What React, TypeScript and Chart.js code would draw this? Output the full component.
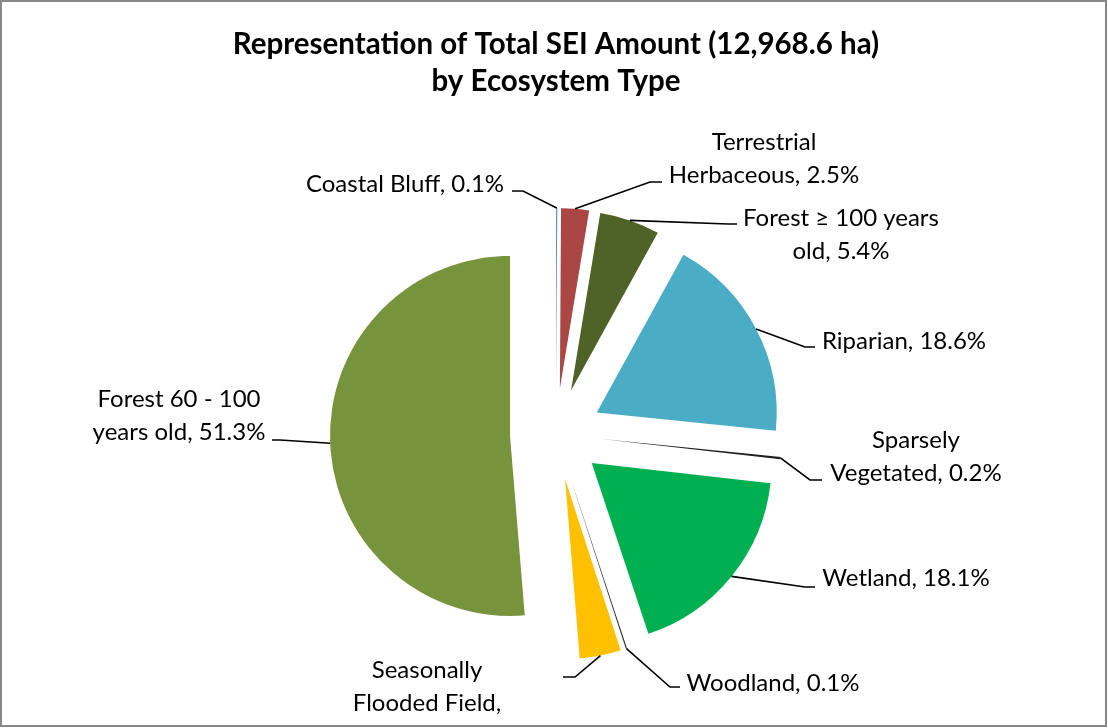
import React, { useEffect, useRef } from 'react';
import { Chart, registerables } from 'chart.js';

Chart.register(...registerables);

const categories = [
  'Coastal Bluff',
  'Terrestrial Herbaceous',
  'Forest ≥ 100 years old',
  'Riparian',
  'Sparsely Vegetated',
  'Wetland',
  'Woodland',
  'Seasonally Flooded Field',
  'Forest 60 - 100 years old',
];
const shares = [0.1, 2.5, 5.4, 18.6, 0.2, 18.1, 0.1, 3.7, 51.3];
const sliceColors = ['#4F81BD', '#AA4643', '#4F6228', '#4BACC6', '#1E1E1E', '#00B050', '#262626', '#FFC000', '#77933C'];
const titleLines = ['Representation of Total SEI Amount (12,968.6 ha)', 'by Ecosystem Type'];

const EXPLODE = 46;
const RADIUS = 180;
const FONT = 'Lato, "Open Sans", sans-serif';
const LABEL_SIZE = 24;
const LINE_H = 33;
const TITLE_SIZE = 29.5;

type LabelSpec = { breaks: number[]; dx: number; dy: number; elbow: [number, number]; end: [number, number] };
// label placement relative to the pie centre
const labelLayout: LabelSpec[] = [
  { breaks: [], dx: -151, dy: -250, elbow: [-33, -243], end: [-44, -243] },
  { breaks: [1], dx: 208, dy: -292, elbow: [94, -252], end: [106, -252] },
  { breaks: [4], dx: 285, dy: -216, elbow: [172, -210], end: [181, -210] },
  { breaks: [], dx: 348, dy: -93, elbow: [249, -87], end: [259, -87] },
  { breaks: [1], dx: 360, dy: 6, elbow: [254, 46], end: [266, 46] },
  { breaks: [], dx: 350, dy: 144, elbow: [249, 153], end: [259, 153] },
  { breaks: [], dx: 217, dy: 249, elbow: [114, 253], end: [124, 253] },
  { breaks: [1, 3], dx: -129, dy: 236, elbow: [19, 243], end: [7, 243] },
  { breaks: [4], dx: -377, dy: -35, elbow: [-276, 6], end: [-284, 6] },
];

function labelLines(i: number): string[] {
  const text = `${categories[i]}, ${shares[i].toFixed(1)}%`;
  const words = text.split(' ');
  const lines: string[] = [];
  let cur: string[] = [];
  words.forEach((w, k) => {
    if (labelLayout[i].breaks.includes(k) && cur.length) {
      lines.push(cur.join(' '));
      cur = [];
    }
    cur.push(w);
  });
  lines.push(cur.join(' '));
  return lines;
}

const explodePlugin = {
  id: 'explodeSlices',
  beforeDatasetDraw(chart: any, args: any) {
    const ctx = chart.ctx;
    args.meta.data.forEach((arc: any) => {
      const half = (arc.startAngle + arc.endAngle) / 2;
      ctx.save();
      ctx.translate(Math.cos(half) * EXPLODE, Math.sin(half) * EXPLODE);
      arc.draw(ctx);
      ctx.restore();
    });
    return false;
  },
};

const labelPlugin = {
  id: 'sliceLabels',
  afterDatasetsDraw(chart: any) {
    const ctx = chart.ctx;
    const meta = chart.getDatasetMeta(0);
    ctx.save();
    ctx.beginPath();
    ctx.rect(2, 2, chart.width - 5, chart.height - 6);
    ctx.clip();
    meta.data.forEach((arc: any, i: number) => {
      const spec = labelLayout[i];
      const half = (arc.startAngle + arc.endAngle) / 2;
      const cx = arc.x;
      const cy = arc.y;
      const rr = arc.outerRadius + EXPLODE;
      const sx = cx + Math.cos(half) * rr;
      const sy = cy + Math.sin(half) * rr;
      ctx.strokeStyle = '#000';
      ctx.lineWidth = 1.6;
      ctx.beginPath();
      ctx.moveTo(sx, sy);
      ctx.lineTo(cx + spec.elbow[0], cy + spec.elbow[1]);
      ctx.lineTo(cx + spec.end[0], cy + spec.end[1]);
      ctx.stroke();
      ctx.fillStyle = '#000';
      ctx.font = `${LABEL_SIZE}px ${FONT}`;
      ctx.textAlign = 'center';
      ctx.textBaseline = 'middle';
      labelLines(i).forEach((ln, k) => {
        const y = cy + spec.dy + k * LINE_H;
        if (y < chart.height) ctx.fillText(ln, cx + spec.dx, y);
      });
    });
    ctx.restore();
  },
};

const borderPlugin = {
  id: 'frame',
  afterDraw(chart: any) {
    const ctx = chart.ctx;
    ctx.save();
    ctx.strokeStyle = '#888888';
    ctx.lineWidth = 2;
    ctx.strokeRect(1, 1, chart.width - 3, chart.height - 3);
    ctx.restore();
  },
};

export default function App() {
  const ref = useRef<HTMLCanvasElement | null>(null);
  useEffect(() => {
    if (!ref.current) return;
    const chart = new Chart(ref.current, {
      type: 'pie',
      data: {
        labels: categories,
        datasets: [{ data: shares, backgroundColor: sliceColors, borderWidth: 0 }],
      },
      options: {
        responsive: false,
        animation: false,
        events: [],
        radius: RADIUS,
        layout: { padding: { left: 4, right: 0, top: 0, bottom: 0 } },
        plugins: {
          legend: { display: false },
          tooltip: { enabled: false },
          title: {
            display: true,
            text: titleLines,
            color: '#000',
            font: { family: FONT, size: TITLE_SIZE, weight: 'bold', lineHeight: 37 / TITLE_SIZE },
            padding: { top: 26, bottom: 40 },
          },
        },
      } as any,
      plugins: [explodePlugin, labelPlugin, borderPlugin],
    });
    return () => chart.destroy();
  }, []);
  return (
    <div style={{ position: 'absolute', left: 0, top: 0, width: 1108, height: 728, background: '#fff' }}>
      <canvas ref={ref} width={1108} height={728} style={{ display: 'block' }} />
    </div>
  );
}
